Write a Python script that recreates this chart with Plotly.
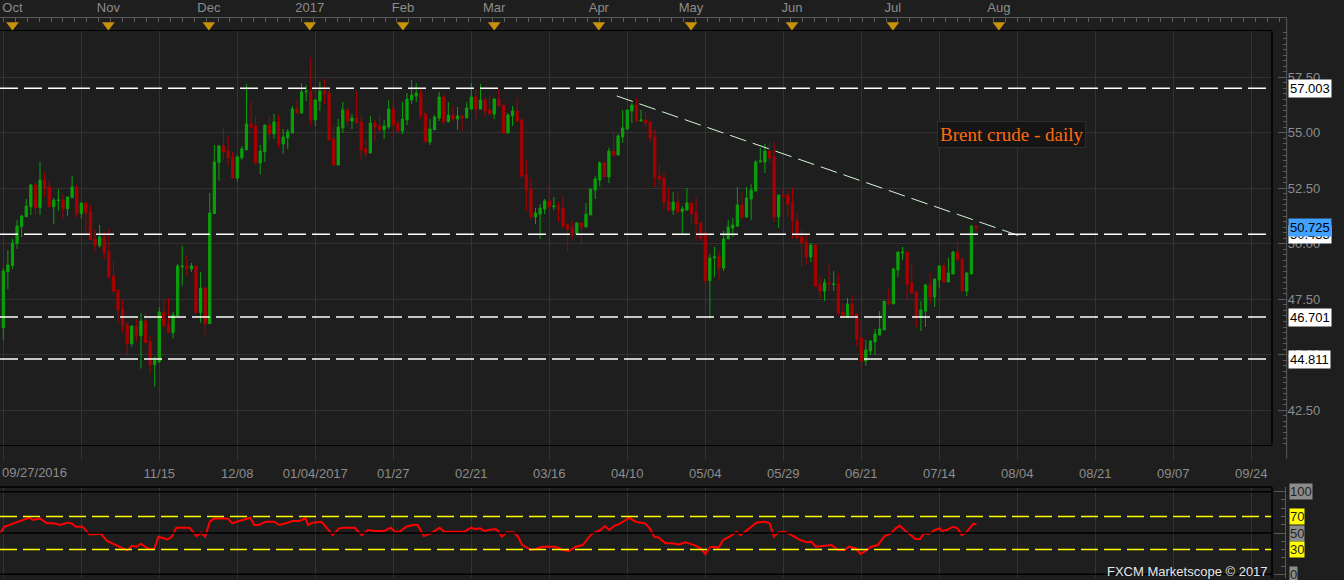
import plotly.graph_objects as go

# ---------------- data ----------------
open_ = [46.22, 48.74, 49.02, 50.01, 50.77, 51.22, 51.67, 52.65, 51.63, 52.87,
         52.56, 51.67, 51.95, 51.97, 51.58, 52.08, 52.56, 51.36, 51.84, 51.43,
         50.22, 49.92, 50.31, 49.63, 48.55, 47.92, 47.06, 46.34, 45.50, 46.30,
         45.86, 46.52, 45.59, 44.56, 44.69, 46.93, 46.34, 46.00, 46.76, 48.97,
         49.00, 48.87, 49.00, 46.90, 48.01, 46.40, 51.36, 53.66, 54.41, 54.18,
         53.91, 52.96, 53.87, 54.23, 55.40, 55.31, 53.64, 54.14, 55.35, 54.95,
         55.49, 54.50, 54.77, 54.99, 56.07, 55.89, 56.84, 56.84, 55.58, 56.43,
         56.88, 56.79, 54.72, 53.55, 55.22, 56.03, 55.53, 55.67, 55.49, 54.27,
         54.09, 55.44, 55.31, 55.13, 55.26, 56.07, 55.40, 55.08, 55.58, 56.48,
         56.66, 56.79, 55.85, 54.59, 55.13, 55.67, 56.61, 55.49, 55.80, 55.62,
         55.76, 55.67, 56.07, 56.61, 56.07, 56.48, 56.03, 55.85, 56.52, 56.25,
         54.99, 55.76, 55.98, 55.58, 53.10, 52.47, 51.21, 51.34, 51.57, 51.93,
         51.66, 51.70, 51.61, 50.85, 50.71, 50.44, 50.94, 50.76, 51.30, 52.42,
         52.87, 53.64, 53.01, 54.18, 54.00, 54.81, 55.17, 55.98, 56.25, 55.53,
         55.58, 55.49, 54.81, 53.05, 52.96, 51.93, 51.52, 51.88, 51.45, 51.52,
         51.84, 51.39, 50.94, 50.49, 48.34, 49.36, 49.41, 48.91, 50.22, 50.71,
         50.80, 51.75, 51.21, 52.02, 52.38, 53.69, 53.69, 54.18, 53.91, 51.21,
         52.20, 52.20, 51.84, 51.03, 50.31, 50.08, 49.41, 49.95, 48.15, 47.87,
         48.24, 48.17, 48.19, 46.93, 46.70, 47.29, 46.84, 45.76, 44.72, 45.17,
         45.58, 45.89, 46.12, 47.42, 47.29, 48.82, 49.59, 49.63, 48.24, 47.83,
         46.70, 46.97, 48.15, 47.60, 48.37, 49.00, 48.28, 48.64, 49.63, 49.32,
         47.87, 48.64, 50.80]
high = [48.90, 49.72, 50.22, 51.07, 51.30, 52.02, 52.69, 52.78, 53.69, 53.23,
        52.83, 52.06, 52.47, 52.24, 52.11, 53.05, 52.65, 51.84, 51.93, 51.75,
        50.62, 50.85, 50.53, 50.71, 49.18, 47.96, 47.47, 46.48, 46.30, 46.61,
        46.88, 46.84, 45.86, 44.92, 47.15, 47.51, 47.56, 46.93, 49.09, 49.90,
        49.45, 49.14, 49.00, 48.73, 48.05, 52.29, 54.45, 54.45, 55.26, 54.86,
        54.14, 54.00, 54.41, 57.20, 56.39, 55.76, 54.45, 55.35, 55.76, 55.85,
        55.80, 55.17, 55.17, 56.21, 56.48, 57.24, 57.15, 58.40, 56.48, 57.29,
        57.42, 56.93, 55.31, 55.62, 56.39, 56.16, 55.85, 56.88, 55.85, 54.72,
        55.76, 55.58, 55.80, 55.58, 56.48, 56.48, 55.58, 56.39, 56.79, 57.38,
        57.24, 57.02, 55.94, 55.62, 55.80, 56.84, 56.75, 56.39, 56.21, 56.16,
        55.80, 56.39, 57.24, 56.97, 57.20, 56.61, 56.70, 56.57, 56.97, 56.25,
        55.89, 56.21, 56.57, 55.71, 53.78, 52.96, 51.61, 51.79, 52.02, 52.60,
        52.11, 51.88, 52.15, 50.94, 51.03, 50.98, 50.98, 51.84, 52.47, 53.05,
        53.73, 53.69, 54.32, 55.04, 54.95, 56.03, 56.03, 56.34, 56.57, 56.03,
        55.94, 55.49, 55.13, 53.51, 53.23, 52.51, 52.33, 52.38, 51.70, 52.51,
        51.88, 52.11, 50.98, 50.49, 49.54, 49.86, 49.68, 50.58, 51.07, 51.16,
        52.56, 52.29, 52.56, 52.69, 53.78, 54.32, 54.50, 54.59, 54.59, 52.20,
        52.47, 52.38, 52.51, 51.39, 50.67, 50.40, 50.04, 50.04, 48.51, 48.42,
        49.09, 48.78, 48.64, 47.33, 47.56, 47.69, 46.84, 46.57, 45.67, 45.67,
        46.16, 46.97, 47.42, 47.96, 48.91, 49.63, 49.86, 49.63, 49.09, 47.83,
        47.42, 48.15, 48.69, 48.42, 49.00, 49.14, 49.36, 49.68, 50.13, 49.32,
        48.69, 50.85, 50.80]
low = [45.67, 47.96, 48.87, 49.77, 50.31, 51.22, 51.30, 51.30, 51.30, 52.12,
       51.63, 50.89, 51.49, 51.12, 51.25, 52.08, 51.18, 51.12, 50.50, 50.19,
       49.65, 49.83, 49.32, 48.41, 47.69, 46.43, 46.00, 45.05, 45.37, 45.59,
       44.38, 45.50, 44.20, 43.57, 44.65, 46.22, 46.00, 45.73, 46.76, 48.11,
       48.57, 48.73, 46.85, 46.45, 45.91, 46.40, 51.36, 52.84, 53.78, 53.52,
       52.92, 52.80, 53.78, 54.23, 55.17, 53.55, 53.14, 53.69, 54.68, 54.72,
       54.32, 54.05, 54.27, 54.99, 55.89, 55.89, 56.43, 55.31, 55.31, 55.98,
       56.30, 54.68, 53.55, 53.55, 54.99, 55.26, 55.17, 55.40, 53.78, 53.91,
       54.09, 54.63, 55.04, 54.72, 55.17, 54.81, 55.04, 54.95, 55.35, 56.30,
       56.39, 55.62, 54.59, 54.45, 55.13, 55.53, 55.40, 55.49, 55.53, 55.13,
       55.08, 55.67, 56.07, 55.62, 56.07, 55.71, 55.85, 55.62, 56.21, 54.99,
       54.99, 55.31, 55.53, 52.92, 51.48, 51.12, 50.89, 50.22, 51.34, 51.48,
       51.52, 50.98, 50.71, 49.68, 50.22, 50.44, 50.04, 50.76, 51.30, 52.02,
       52.60, 53.01, 52.74, 53.96, 54.00, 54.54, 55.17, 55.44, 55.49, 55.53,
       55.26, 54.59, 52.56, 52.65, 51.57, 51.43, 51.30, 51.43, 50.44, 51.52,
       50.91, 50.13, 50.13, 48.15, 46.63, 48.51, 48.37, 48.78, 50.22, 50.31,
       50.76, 51.12, 51.16, 51.07, 52.38, 53.69, 53.19, 53.64, 50.98, 50.71,
       51.21, 51.21, 50.22, 50.26, 48.96, 49.05, 49.18, 48.10, 47.56, 47.42,
       47.87, 47.87, 46.75, 46.70, 46.70, 46.70, 45.40, 44.41, 44.50, 44.99,
       44.99, 45.89, 46.12, 47.29, 47.29, 48.51, 49.27, 47.47, 47.78, 46.25,
       46.07, 46.25, 47.33, 47.15, 48.01, 48.28, 48.28, 48.64, 49.27, 47.87,
       47.65, 48.64, 50.49]
close = [48.78, 49.05, 50.04, 50.80, 51.25, 51.70, 52.65, 51.63, 52.87, 52.51,
         51.67, 51.97, 51.97, 51.58, 52.11, 52.56, 51.36, 51.84, 51.40, 50.19,
         49.92, 50.31, 49.59, 48.51, 47.87, 47.03, 46.31, 45.50, 46.30, 45.86,
         46.52, 45.55, 44.56, 44.74, 46.93, 46.31, 46.00, 46.79, 49.00, 49.00,
         48.87, 49.00, 46.90, 48.01, 46.40, 51.39, 53.69, 54.41, 54.14, 53.87,
         52.96, 53.91, 54.27, 55.40, 55.26, 53.64, 54.18, 55.35, 54.95, 55.49,
         54.50, 54.81, 55.04, 56.07, 55.89, 56.84, 56.87, 55.58, 56.48, 56.88,
         56.75, 54.68, 53.55, 55.26, 56.03, 55.53, 55.67, 55.44, 54.23, 54.09,
         55.44, 55.26, 55.13, 55.31, 56.07, 55.35, 55.08, 55.62, 56.52, 56.70,
         56.79, 55.80, 54.59, 55.17, 55.71, 56.61, 55.49, 55.80, 55.62, 55.76,
         55.67, 56.12, 56.61, 56.07, 56.48, 55.98, 55.85, 56.52, 56.21, 54.99,
         55.80, 55.98, 55.53, 53.05, 52.42, 51.21, 51.39, 51.61, 51.93, 51.66,
         51.70, 51.57, 50.80, 50.67, 50.44, 50.94, 50.76, 51.34, 52.47, 52.92,
         53.64, 53.01, 54.18, 54.00, 54.86, 55.22, 56.03, 56.25, 55.53, 55.58,
         55.44, 54.77, 53.01, 52.92, 51.88, 51.52, 51.88, 51.43, 51.57, 51.84,
         51.36, 50.91, 50.26, 48.33, 49.36, 49.41, 48.91, 50.22, 50.76, 50.85,
         51.75, 51.21, 52.06, 52.42, 53.69, 53.73, 54.18, 53.87, 51.21, 52.20,
         52.15, 51.79, 51.03, 50.26, 50.04, 49.41, 49.95, 48.10, 47.87, 48.24,
         48.19, 48.19, 46.88, 46.70, 47.29, 46.79, 45.71, 44.72, 45.22, 45.62,
         45.94, 46.16, 47.42, 47.29, 48.87, 49.63, 49.63, 48.19, 47.78, 46.70,
         47.02, 48.15, 47.60, 48.42, 49.00, 48.28, 48.69, 49.63, 49.27, 47.87,
         48.69, 50.80, 50.725]
bar_idx = list(range(len(close)))

date_tick_idx = [0, 17, 34, 51, 68, 85, 102, 119, 136, 153, 170, 187, 204, 221, 238, 255, 272]
date_tick_text = ["", "", "11/15", "12/08", "01/04/2017", "01/27", "02/21", "03/16",
                  "04/10", "05/04", "05/29", "06/21", "07/14", "08/04", "08/21",
                  "09/07", "09/24"]
first_date_label = "09/27/2016"

month_idx = [2.0, 22.9, 44.8, 66.8, 87.1, 107.0, 129.8, 149.9, 171.9, 193.9, 217.0]
month_text = ["Oct", "Nov", "Dec", "2017", "Feb", "Mar", "Apr", "May", "Jun", "Jul", "Aug"]

price_ticks = [42.5, 45.0, 47.5, 50.0, 52.5, 55.0, 57.5]
level_vals = [57.003, 50.433, 46.701, 44.811]
level_labels = ["57.003", "50.433", "46.701", "44.811"]
current_price = 50.725

trend_idx = [133.7, 222.7]
trend_val = [56.66, 50.27]

rsi_x = [-0.7, 0.25, 2.2, 4.1, 5.6, 6.6, 8.0, 9.5, 11.0, 12.4, 13.9, 14.9, 15.8, 17.3,
         18.7, 20.2, 21.2, 22.6, 24.1, 25.6, 27.0, 28.0, 29.0, 30.0, 30.9, 31.9, 32.9,
         33.8, 34.8, 35.8, 36.7, 37.7, 40.6, 42.1, 43.1, 44.0, 45.0, 46.0, 48.9, 49.9,
         50.9, 52.3, 53.8, 54.7, 55.7, 57.2, 59.1, 60.1, 61.6, 63.0, 64.5, 65.9, 66.4,
         67.4, 69.3, 70.3, 71.8, 73.2, 74.2, 76.6, 78.1, 79.5, 81.0, 83.0, 84.4, 85.4,
         86.4, 87.8, 89.3, 90.3, 91.7, 93.2, 95.1, 96.1, 100.5, 101.9, 102.9, 103.9,
         104.9, 105.8, 107.3, 107.8, 108.7, 109.7, 111.2, 112.2, 113.1, 115.1, 116.1,
         117.5, 120.4, 121.9, 123.3, 124.8, 126.3, 128.2, 129.2, 130.2, 131.1, 132.1,
         133.1, 134.5, 136.5, 137.5, 138.4, 139.9, 140.9, 141.9, 142.9, 144.3, 145.8,
         147.2, 148.7, 150.6, 152.0, 153.0, 154.0, 154.9, 155.9, 156.9, 158.3, 159.8,
         160.7, 161.7, 162.6, 164.1, 166.0, 167.0, 168.0, 168.9, 170.4, 171.8, 173.7,
         175.2, 176.1, 177.1, 178.6, 180.5, 182.0, 183.4, 184.3, 185.8, 186.8, 187.7,
         189.2, 190.6, 192.1, 193.5, 194.5, 195.4, 196.4, 197.8, 198.8, 199.8, 200.7,
         201.7, 203.1, 204.1, 204.6, 205.6, 207.0, 208.0, 208.9, 209.9, 211.4, 212.1]
rsi_v = [49.6, 57.6, 61.7, 65.7, 68.5, 65.7, 67.7, 61.7, 61.7, 59.7, 62.5, 61.7, 57.6, 57.6,
         48.4, 48.4, 49.6, 40.3, 36.2, 32.2, 29.0, 34.6, 33.4, 37.1, 33.4, 30.6, 30.6,
         45.5, 43.5, 42.3, 45.5, 56.4, 56.4, 46.3, 50.4, 45.5, 63.7, 67.7, 67.7, 61.7,
         63.7, 65.7, 68.5, 59.7, 59.7, 63.7, 63.7, 59.7, 61.7, 64.5, 64.5, 67.7, 59.7,
         62.5, 63.7, 57.6, 47.5, 55.6, 56.4, 56.4, 47.5, 53.6, 52.4, 52.4, 56.4, 51.6,
         51.6, 57.6, 59.7, 59.7, 46.3, 49.6, 56.4, 51.6, 51.6, 56.4, 54.8, 55.6,
         52.4, 53.6, 54.8, 52.4, 45.5, 50.8, 50.8, 45.5, 35.4, 29.4, 30.6,
         33.4, 33.4, 29.4, 28.2, 33.4, 35.4, 48.8, 50.8, 53.6, 58.4, 53.6,
         58.4, 61.7, 68.5, 64.5, 62.9, 61.7, 55.6, 45.5, 44.3, 37.5, 37.5,
         36.2, 38.7, 35.4, 31.4, 24.6, 32.6, 33.4, 32.2, 41.5, 45.5, 51.6,
         47.5, 52.4, 55.6, 62.5, 63.7, 61.7, 45.5, 50.8, 51.6, 47.5, 41.5,
         38.7, 39.5, 33.4, 34.6, 35.4, 29.4, 29.4, 33.4, 31.4, 24.6, 27.4,
         33.4, 35.4, 46.3, 49.6, 55.6, 58.8, 53.6, 46.7, 42.7, 42.7, 49.6,
         48.8, 53.6, 55.6, 52.4, 53.6, 57.6, 55.6, 47.5, 50.8, 60.9, 60.9]
rsi_levels = [70, 30]
rsi_lines = [100, 50, 0]
rsi_label_vals = [100, 70, 50, 30, 0]

# ---------------- geometry / styling ----------------
W, H = 1344, 580
BG = "#1e1e1e"
GRID = "#333333"
TXT = "#8c8c8c"
FONT = "Liberation Sans"


def px_x(p):
    return p / W


def px_y(p):
    return (H - p) / H


X0 = -0.72
PPB = 4.588  # pixels per bar
x_plot_right = 1272
x_ruler = 1286.7
xr_main = [X0, X0 + x_plot_right / PPB]
xr_ruler = [X0, X0 + x_ruler / PPB]

main_top, main_bot = 31, 445
rsi_top, rsi_bot = 487, 578
ppd = 22.2  # px per dollar
y_top_price = 57.5 + (77.3 - main_top) / ppd
y_bot_price = 57.5 - (main_bot - 77.3) / ppd
rsi_ppu = 0.826
rsi_range = [0 - (rsi_bot - 574.3) / rsi_ppu, 100 + (491.7 - rsi_top) / rsi_ppu]

fig = go.Figure()

fig.add_trace(go.Candlestick(
    x=bar_idx, open=open_, high=high, low=low, close=close,
    increasing=dict(line=dict(color="#0aa00a", width=1), fillcolor="#0aa00a"),
    decreasing=dict(line=dict(color="#a80000", width=1), fillcolor="#a80000"),
    whiskerwidth=0, xaxis="x", yaxis="y", showlegend=False, hoverinfo="skip"))

fig.add_trace(go.Scatter(
    x=trend_idx, y=trend_val, mode="lines", xaxis="x", yaxis="y",
    line=dict(color="#d4f5d4", width=1, dash="17px,7px"), showlegend=False,
    hoverinfo="skip"))

fig.add_trace(go.Scatter(
    x=rsi_x, y=rsi_v, mode="lines", xaxis="x2", yaxis="y2",
    line=dict(color="#ff0000", width=2), showlegend=False, hoverinfo="skip"))

fig.add_trace(go.Scatter(
    x=month_idx, y=[0.47] * len(month_idx), mode="markers", xaxis="x3", yaxis="y3",
    marker=dict(symbol="triangle-down", size=11, color="#c8920a", line=dict(width=0)),
    cliponaxis=False, showlegend=False, hoverinfo="skip"))

main_dom = [px_y(main_bot), px_y(main_top)]
rsi_dom = [px_y(rsi_bot), px_y(rsi_top)]

fig.update_layout(
    width=W, height=H, margin=dict(l=0, r=0, t=0, b=0),
    paper_bgcolor=BG, plot_bgcolor=BG, showlegend=False,
    font=dict(family=FONT, size=13, color=TXT),
    xaxis=dict(domain=[0, px_x(x_plot_right)], range=xr_main, anchor="y",
               tickmode="array", tickvals=date_tick_idx, ticktext=date_tick_text,
               showgrid=True, gridcolor=GRID, gridwidth=1, zeroline=False,
               ticks="outside", ticklen=14, tickcolor=GRID, tickwidth=1,
               tickfont=dict(family=FONT, size=13, color=TXT),
               ticklabelstandoff=2,
               showline=True, linecolor="black", linewidth=1, mirror=True,
               rangeslider=dict(visible=False)),
    yaxis=dict(domain=main_dom, range=[y_bot_price, y_top_price], anchor="free",
               position=px_x(x_ruler), side="right",
               tickmode="array", tickvals=price_ticks,
               ticktext=["%.2f" % v for v in price_ticks],
               showgrid=True, gridcolor=GRID, zeroline=False, showline=False,
               ticks="inside", ticklen=9, tickcolor="#5a5a5a",
               minor=dict(ticks="inside", ticklen=4, tickcolor="#5a5a5a",
                          tick0=0, dtick=0.25, showgrid=False),
               tickfont=dict(family=FONT, size=13, color=TXT)),
    xaxis2=dict(domain=[0, px_x(x_plot_right)], range=xr_main, anchor="y2",
                matches="x", tickmode="array", tickvals=date_tick_idx,
                showticklabels=False, showgrid=True, gridcolor=GRID,
                zeroline=False, ticks="", showline=False),
    yaxis2=dict(domain=rsi_dom, range=rsi_range, anchor="free",
                position=(x_ruler - 1.7) / W, side="right",
                tickmode="array", tickvals=rsi_lines, showticklabels=False,
                showgrid=False, zeroline=False, showline=True, linecolor="#5a5a5a",
                ticks="inside", ticklen=11, tickcolor="#5a5a5a",
                minor=dict(ticks="inside", ticklen=4, tickcolor="#5a5a5a",
                           tick0=0, dtick=10, showgrid=False)),
    xaxis3=dict(domain=[0, px_x(x_ruler)], range=xr_ruler, anchor="y3", side="top",
                tickmode="array", tickvals=month_idx, ticktext=month_text,
                showgrid=False, zeroline=False, ticks="",
                showline=True, linecolor="#5a5a5a", linewidth=1,
                tickfont=dict(family=FONT, size=13, color=TXT),
                minor=dict(ticks="inside", ticklen=4, tickcolor="#5a5a5a",
                           tick0=0, dtick=2.6, showgrid=False)),
    yaxis3=dict(domain=[px_y(main_top), px_y(18.3)], range=[0, 1], anchor="x3",
                visible=False),
    xaxis4=dict(domain=[0, px_x(x_ruler)], range=xr_ruler, anchor="y4", side="bottom",
                showticklabels=False, showgrid=False, zeroline=False,
                showline=True, linecolor="#5a5a5a", linewidth=1,
                ticks="inside", ticklen=5, tickcolor="#5a5a5a",
                tickmode="linear", tick0=0, dtick=1.7),
    yaxis4=dict(domain=[px_y(458.7), px_y(main_bot)], range=[0, 1], anchor="x4",
                visible=False),
)

shapes = []
for lv in level_vals:
    shapes.append(dict(type="line", xref="x domain", yref="y", x0=0, x1=1, y0=lv, y1=lv,
                       line=dict(color="white", width=1.5, dash="18px,6px"), layer="above"))
shapes.append(dict(type="line", xref="paper", yref="paper",
                   x0=px_x(x_plot_right), x1=px_x(x_plot_right),
                   y0=main_dom[0], y1=main_dom[1], line=dict(color="black", width=1.5)))
shapes.append(dict(type="line", xref="paper", yref="paper",
                   x0=px_x(x_ruler), x1=px_x(x_ruler), y0=px_y(458.7), y1=px_y(18.3),
                   line=dict(color="#5a5a5a", width=1)))
for lv in rsi_lines:
    shapes.append(dict(type="line", xref="x2 domain", yref="y2", x0=0, x1=1, y0=lv, y1=lv,
                       line=dict(color="black", width=1.5)))
for lv in rsi_levels:
    shapes.append(dict(type="line", xref="x2 domain", yref="y2", x0=0, x1=1, y0=lv, y1=lv,
                       line=dict(color="#ffff00", width=1.5, dash="17px,6px")))
shapes.append(dict(type="line", xref="x2 domain", yref="y2 domain", x0=0, x1=1, y0=1, y1=1,
                   line=dict(color="black", width=1.5)))
shapes.append(dict(type="line", xref="x2 domain", yref="y2 domain", x0=1, x1=1, y0=0, y1=1,
                   line=dict(color="black", width=1.5)))
fig.update_layout(shapes=shapes)

ann = []
ann.append(dict(x=X0, y=px_y(472), xref="x", yref="paper", text=first_date_label,
                showarrow=False, xanchor="left", yanchor="middle",
                font=dict(family=FONT, size=13, color=TXT)))
label_x = px_x(1288)
for lv, txt in zip(level_vals, level_labels):
    ann.append(dict(x=label_x, y=lv, xref="paper", yref="y", text=txt, showarrow=False,
                    xanchor="left", yanchor="middle", bgcolor="white", borderpad=1,
                    font=dict(family=FONT, size=13, color="black")))
ann.append(dict(x=label_x, y=current_price, xref="paper", yref="y",
                text="%.3f" % current_price, showarrow=False,
                xanchor="left", yanchor="middle", bgcolor="#42a0ff", borderpad=1,
                font=dict(family=FONT, size=13, color="black")))
rsi_label_bg = ["#8c8c8c", "#ffff00", "#8c8c8c", "#ffff00", "#8c8c8c"]
for v, bg in zip(rsi_label_vals, rsi_label_bg):
    ann.append(dict(x=px_x(1289), y=v, xref="paper", yref="y2", text=str(v),
                    showarrow=False, xanchor="left", yanchor="middle", bgcolor=bg,
                    borderpad=0, font=dict(family=FONT, size=13, color="#222222")))
ann.append(dict(x=px_x(1011), y=px_y(134), xref="paper", yref="paper",
                text="Brent crude - daily", showarrow=False, xanchor="center",
                yanchor="middle", bgcolor="#151515", bordercolor="#2c2c2c",
                borderwidth=1, borderpad=2,
                font=dict(family="Liberation Serif", size=19, color="#ff6a10")))
ann.append(dict(x=px_x(1270), y=px_y(571), xref="paper", yref="paper",
                text="FXCM Marketscope © 2017", showarrow=False, xanchor="right",
                yanchor="middle", font=dict(family=FONT, size=13, color="#e6e6e6")))
fig.update_layout(annotations=ann)

fig.write_html(
    "out.html",
    config={"displayModeBar": False, "staticPlot": True},
    post_script=("document.body.style.margin='0';document.body.style.padding='0';"
                 "document.body.style.overflow='hidden';"
                 "document.body.style.background='#1e1e1e';"))
